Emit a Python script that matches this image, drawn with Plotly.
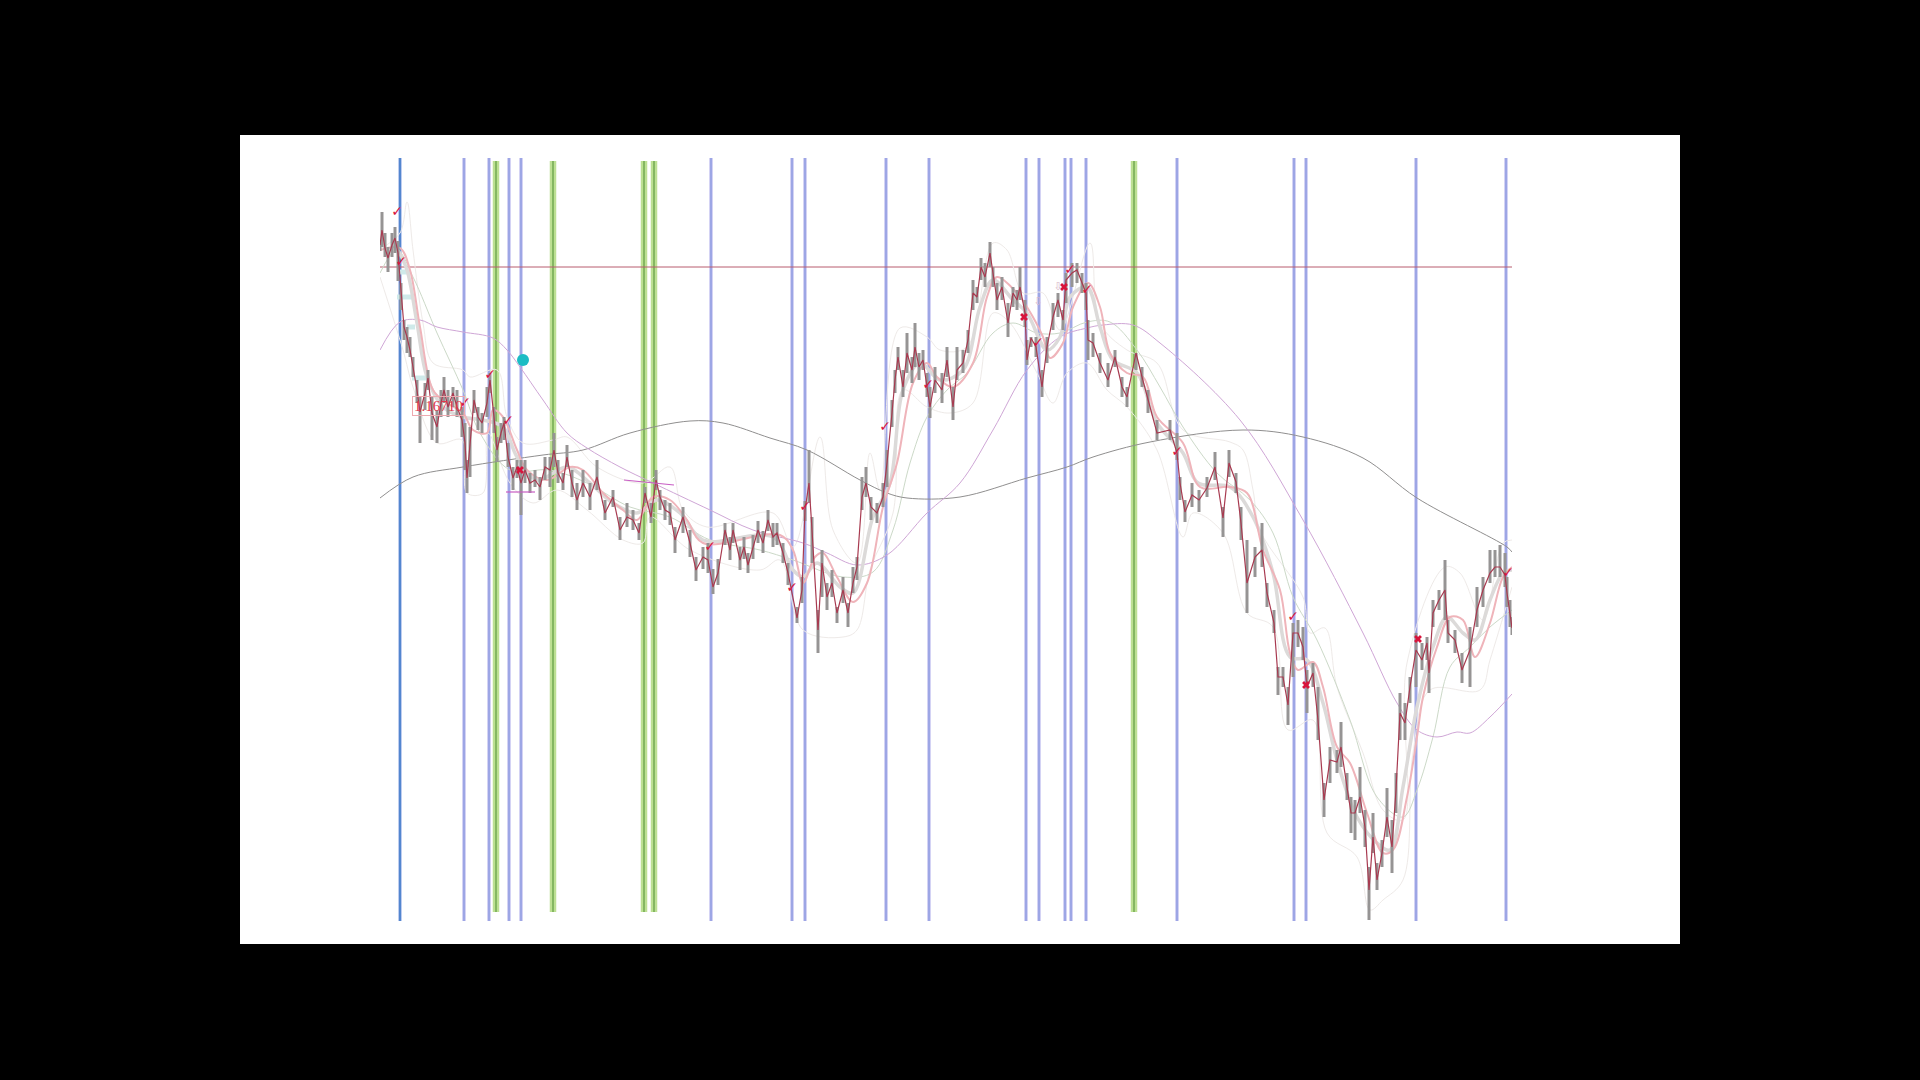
import plotly.graph_objects as go

# ---- candle data: bar number, close, high, low (price in points above the chart floor)
bars = [0,2,5,8,12,15,18,21,24,27, 30,33,37,40,45,48,52,57,61,64, 68,73,77,82,85,87,90,94,98,102,
        107,110,114,117,121,124,128,133,137,141, 145,150,155,160,165,170,174,178,183,187,
        192,197,203,210,217,225,233,240,247,253, 259,265,271,276,280,285,290,295,303,310,
        316,323,328,333,338,345,350,353,360,364, 368,373,378,383,388,393,397,403,408,417,
        422,425,429,432,438,442,447,452,457,463, 468,473,477,482,486,491,497,503,507,512,
        515,518,523,527,532,535,539,543,547,550, 555,562,567,573,577,583,588,593,597,601,
        605,610,613,617,622,628,633,637,640,645, 647,651,656,662,667,673,678,683,686,692,
        697,702,706,708,713,720,728,735,742,747, 756,762,768,777,790,797,800,805,812,819,
        827,835,843,849,856,861,867,875,882,887, 894,898,903,908,913,918,923,927,933,938,
        944,950,957,961,967,971,975,980,985,989, 993,997,1002,1007,1012,1016,1020,1025,1030,1036,
        1042,1047,1049,1053,1059,1065,1068,1075,1082,1090, 1097,1103,1110,1115,1120,1125,1127,1130,1132]
close = [676,691,673,663,676,683,668,628,594,584, 571,554,531,509,528,543,508,494,518,531, 514,528,514,501,478,443,478,521,504,498,
         518,541,504,471,488,498,464,443,454,438, 451,438,441,434,454,451,471,448,438,464,
         438,421,438,424,444,408,424,391,404,401, 388,428,404,441,424,411,408,381,404,378,
         351,364,361,334,348,391,371,391,361,374, 356,374,391,378,401,384,388,368,348,303,
         331,411,438,391,291,358,324,338,308,331, 308,338,354,424,438,414,408,424,458,508,
         541,564,534,568,551,574,554,561,534,514, 541,531,561,514,551,558,581,628,624,654,
         644,668,648,621,634,598,628,621,634,608, 561,583,574,534,574,604,621,601,641,648,
         651,638,628,581,578,558,541,564,534,524, 568,544,521,488,491,468,438,409,426,421,
         433,454,403,458,439,398,338,364,371,328, 298,244,244,216,288,288,274,234,248,201,
         121,161,159,174,134,108,108,124,94,31, 84,41,68,104,74,131,208,198,234,271,
         261,278,248,308,321,331,288,281,251,271, 311,331,348,354,354,346,328,304,293]
high = [680,709,688,674,688,694,680,638,601,594, 584,564,541,524,538,551,524,511,531,544, 531,534,531,514,498,461,494,531,514,508,
        534,548,514,484,498,504,478,454,461,461, 461,448,451,444,464,464,488,461,448,476,
        451,438,451,438,461,421,431,404,418,411, 398,434,418,451,431,421,418,394,414,391,
        364,374,378,352,362,398,384,398,374,384, 368,386,400,390,411,398,398,378,358,314,
        344,420,471,404,311,371,338,351,314,344, 318,354,364,444,454,424,418,438,471,521,
        551,574,551,588,564,598,568,571,548,534, 554,548,574,534,574,571,591,641,634,663,
        658,679,654,638,644,618,634,631,654,621, 581,584,584,551,584,618,628,611,648,658,
        658,648,638,601,588,568,558,571,544,534, 568,554,531,501,501,488,444,421,438,431,
        444,469,414,471,448,414,381,374,398,338, 311,254,254,234,298,301,294,251,258,234,
        138,174,171,199,148,124,121,154,111,54, 108,58,81,133,101,148,228,218,244,288,
        278,284,261,321,331,361,301,291,268,294, 334,344,371,371,376,368,344,321,304]
low = [670,674,664,649,664,668,640,611,581,568, 564,544,518,478,511,531,481,478,504,518, 504,514,504,484,451,428,444,508,491,488,
       504,528,488,459,478,481,454,431,443,406, 438,428,434,421,441,434,454,438,431,454,
       424,411,424,411,431,401,414,381,394,391, 381,418,398,431,411,401,396,368,388,364,
       340,352,348,327,336,376,361,378,351,362, 348,362,378,368,390,374,376,358,336,298,
       318,400,418,358,268,324,311,324,298,318, 294,328,341,411,424,401,398,414,434,494,
       528,551,524,548,538,554,541,551,524,503, 528,518,544,501,541,548,568,611,618,641,
       634,654,634,611,621,584,614,611,621,594, 556,574,564,524,558,591,604,591,618,634,
       638,628,611,561,564,548,534,554,524,514, 551,534,508,481,481,461,421,399,414,409,
       424,441,384,444,428,381,308,344,354,314, 288,226,234,196,244,274,261,208,234,181,
       104,138,148,154,121,88,81,108,74,1, 68,31,54,84,48,108,181,181,218,234,
       251,261,228,294,311,301,278,268,238,234, 294,314,338,344,344,334,314,294,286]

# ---- slow averages
ma_grey_x = [0,33,83,163,203,250,310,343,390,427,480,507,527,580,647,687,713,770,863,923,983,1037,1127,1132]
ma_grey_y = [423,444,454,466,471,488,500,498,483,471,441,428,423,424,443,454,464,479,491,484,463,423,374,369]
ma_purple_x = [0,20,40,57,83,113,127,140,163,187,207,240,273,330,373,423,447,477,507,547,580,613,647,680,707,723,753,780,860,923,983,1017,1037,1057,1077,1090,1110,1132]
ma_purple_y = [571,599,601,594,589,583,571,554,521,488,473,454,438,411,391,378,368,356,366,408,438,491,551,584,593,596,596,578,501,401,288,218,191,184,189,188,204,227]
ma_sage_x = [0,17,33,57,83,100,130,170,207,250,290,330,380,413,463,493,513,530,547,567,587,613,633,657,680,707,730,757,780,803,837,870,893,913,937,970,997,1023,1037,1053,1070,1090,1110,1132]
ma_sage_y = [648,671,644,588,531,488,451,451,438,414,404,381,371,361,344,349,391,458,504,531,548,588,598,588,588,599,599,571,534,494,448,421,388,324,281,201,124,104,131,184,254,274,294,311]

# ---- envelope bands
band_up_x = [0,20,27,33,43,53,83,90,117,127,143,173,187,217,263,290,303,327,393,413,440,453,477,490,500,520,547,560,587,613,627,643,663,680,710,720,747,777,803,850,863,873,880,923,930,945,957,983,1003,1023,1027,1065,1080,1103,1123,1132]
band_up_y = [672,688,719,671,598,558,551,544,551,504,478,481,484,454,438,454,411,394,408,374,484,391,358,468,431,593,584,571,574,678,671,628,628,591,678,598,571,558,491,479,471,431,391,324,288,293,234,168,111,101,258,354,348,301,378,381]
band_lo_x = [0,23,33,57,82,87,103,108,130,153,177,207,243,263,270,310,380,400,423,463,477,490,513,523,547,570,593,613,630,657,673,687,707,727,747,777,803,813,843,867,893,908,933,947,977,990,1003,1023,1033,1050,1100,1110,1132]
band_lo_y = [644,571,534,478,481,428,428,488,438,418,431,411,381,378,404,371,351,361,291,284,291,351,408,531,514,508,518,608,598,548,518,548,558,531,514,471,384,408,388,308,294,191,201,88,64,11,21,41,168,231,231,261,334]

# ---- fast averages
ma_pink_x = [0,20,30,40,53,67,83,93,107,113,123,137,147,167,190,203,223,243,257,273,290,307,323,400,413,423,435,443,457,473,487,503,517,533,547,557,573,593,607,617,637,647,663,670,683,693,708,720,730,747,763,777,803,820,850,867,883,900,910,918,933,943,957,970,987,1003,1013,1027,1037,1043,1057,1070,1083,1095,1110,1123,1132]
ma_pink_y = [671,673,651,594,531,518,508,491,488,511,504,471,451,441,454,451,428,411,401,424,421,401,378,386,371,338,364,368,344,319,338,414,458,538,558,544,534,558,624,644,628,614,584,563,578,614,638,614,568,548,544,504,478,434,434,428,371,331,268,251,259,234,174,158,108,68,71,124,184,224,274,304,301,264,298,344,354]
ma_light_x = [18,27,37,47,63,83,103,123,137,157,187,210,233,257,277,300,323,393,413,423,437,460,473,493,510,523,540,560,583,600,613,633,647,667,680,690,707,720,733,757,777,803,818,850,873,893,910,927,943,957,977,997,1010,1023,1037,1053,1067,1083,1095,1110,1123,1132]
ma_light_y = [671,651,598,544,514,504,501,494,464,441,454,438,418,408,421,408,381,384,351,344,358,334,328,404,438,531,558,541,551,614,641,621,608,571,584,624,634,594,561,548,498,468,438,434,404,348,264,261,218,161,104,78,71,134,214,274,304,288,281,321,348,351]

# ---- vertical time markers
session_strong = [20]
session_blue = [84,109,129,141,331,412,425,506,549,646,659,685,691,706,797,914,926,1036,1126]
session_green = [116,173,264,274,754]
level_price = 654

# ---- signal marks
check_x = [17,21,85,110,128,330,412,425,505,548,658,690,707,797,913,1128]
check_y = [709,659,518,546,500,374,333,414,494,536,578,651,631,469,304,348]
cross_x = [140,644,684,926,1038]
cross_y = [451,604,634,236,282]
dot_x = [143]
dot_y = [561]
arrow_x = [658,678]
arrow_y = [619,634]
level_tag = "1.16710"
tag_x = 58
tag_y = 515
pivot_x0 = [126,244]
pivot_x1 = [155,294]
pivot_y0 = [429,441]
pivot_y1 = [429,436]
teal_x0 = [18,17,27,32]
teal_x1 = [30,32,35,47]
teal_y = [649,624,594,543]

def vlines(xs, lo, hi):
    X, Y = [], []
    for v in xs:
        X += [v, v, None]
        Y += [lo, hi, None]
    return X, Y

def segs(x0, x1, y0, y1):
    X, Y = [], []
    for a, b, c, d in zip(x0, x1, y0, y1):
        X += [a, b, None]
        Y += [c, d, None]
    return X, Y

fig = go.Figure()
def line(x, y, color, width, shape="linear"):
    fig.add_trace(go.Scatter(x=x, y=y, mode="lines", hoverinfo="skip", showlegend=False,
                             line=dict(color=color, width=width, shape=shape)))

# verticals
X, Y = vlines(session_green, 9, 760)
line(X, Y, "#bde093", 6.5)
line(X, Y, "#7fb35e", 1.8)
X, Y = vlines(session_blue, 0, 763)
line(X, Y, "#c6c4f0", 3.5)
line(X, Y, "#7c8edc", 1.1)
X, Y = vlines(session_strong, 0, 763)
line(X, Y, "#a9bdea", 3.5)
line(X, Y, "#3f78c8", 1.6)
line([0, 1132], [level_price, level_price], "#b85c6e", 1)

# bands and averages
line(band_up_x, band_up_y, "#eeeae8", 1, "spline")
line(band_lo_x, band_lo_y, "#eeeae8", 1, "spline")
X, Y = segs(teal_x0, teal_x1, teal_y, teal_y)
line(X, Y, "#cfeaea", 5)
line(ma_sage_x, ma_sage_y, "#ccd9c8", 1, "spline")
line(ma_grey_x, ma_grey_y, "#908f8f", 1, "spline")
line(ma_purple_x, ma_purple_y, "#cfa6d6", 1, "spline")
line(ma_light_x, ma_light_y, "#dcdad9", 3.5, "spline")
line(ma_pink_x, ma_pink_y, "#efb4ba", 2, "spline")

# candles
wx, wy = [], []
for b, h, l in zip(bars, high, low):
    wx += [b, b, None]
    wy += [l, h, None]
line(wx, wy, "#969494", 3)
line(bars, close, "#a83a50", 1.2)

# pivots and marks
X, Y = segs(pivot_x0, pivot_x1, pivot_y0, pivot_y1)
line(X, Y, "#c85cc4", 1.2)
fig.add_trace(go.Scatter(x=check_x, y=check_y, mode="text", text=["✓"] * len(check_x), hoverinfo="skip", showlegend=False,
                         textfont=dict(color="#d8143c", size=14, family="DejaVu Sans")))
fig.add_trace(go.Scatter(x=cross_x, y=cross_y, mode="markers", hoverinfo="skip", showlegend=False,
                         marker=dict(symbol="x", size=7, color="#d8143c", line=dict(width=0))))
fig.add_trace(go.Scatter(x=arrow_x, y=arrow_y, mode="text", text=["⇩"] * len(arrow_x), hoverinfo="skip", showlegend=False,
                         textfont=dict(color="#d9b8c8", size=11, family="DejaVu Sans")))
fig.add_trace(go.Scatter(x=dot_x, y=dot_y, mode="markers", hoverinfo="skip", showlegend=False,
                         marker=dict(size=12, color="#1cbcc4", line=dict(width=0))))

fig.add_annotation(x=tag_x, y=tag_y, text=level_tag, showarrow=False, xref="x", yref="y",
                   font=dict(family="Liberation Serif", size=15, color="#e0364c"),
                   bordercolor="#eeaab0", borderwidth=1, borderpad=1, bgcolor="rgba(0,0,0,0)")

L, R, T, B = 380, 1512, 158, 921
W, H = R - L, B - T
fig.update_layout(
    width=1920, height=1080, autosize=False,
    margin=dict(l=L, r=1920 - R, t=T, b=1080 - B),
    paper_bgcolor="#000000", plot_bgcolor="#fefbf9", showlegend=False,
    xaxis=dict(range=[0, 1132], visible=False, fixedrange=True),
    yaxis=dict(range=[0, 763], visible=False, fixedrange=True),
    shapes=[dict(type="rect", xref="paper", yref="paper", layer="below",
                 x0=(240 - L) / W, x1=(1680 - L) / W,
                 y0=(B - 944) / H, y1=(B - 135) / H,
                 fillcolor="#ffffff", line=dict(width=0))],
)
fig.write_html("out.html", config=dict(displayModeBar=False),
               post_script="document.body.style.margin='0';document.body.style.background='#000';")
